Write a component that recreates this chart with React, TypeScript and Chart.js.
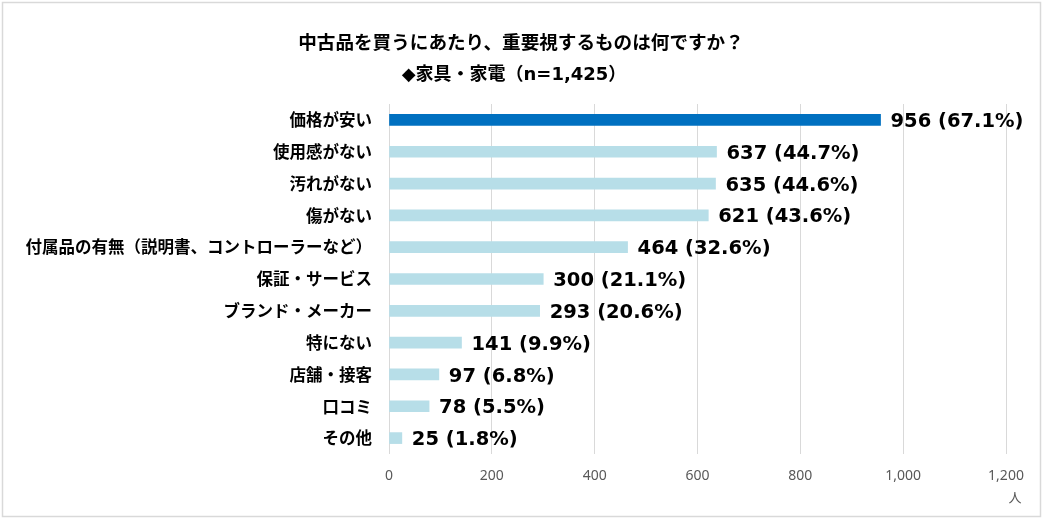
import React, { useEffect, useRef } from "react";
import { Chart, registerables } from "chart.js";

Chart.register(...registerables);

const categories = [
  "価格が安い",
  "使用感がない",
  "汚れがない",
  "傷がない",
  "付属品の有無（説明書、コントローラーなど）",
  "保証・サービス",
  "ブランド・メーカー",
  "特にない",
  "店舗・接客",
  "口コミ",
  "その他",
];
const counts = [956, 637, 635, 621, 464, 300, 293, 141, 97, 78, 25];
const percents = ["67.1", "44.7", "44.6", "43.6", "32.6", "21.1", "20.6", "9.9", "6.8", "5.5", "1.8"];
const xTickValues = [0, 200, 400, 600, 800, 1000, 1200];
const titleText = "中古品を買うにあたり、重要視するものは何ですか？";
const subtitleText = "◆家具・家電（n=1,425）";
const unitText = "人";

const highlightColor = "#0070C0";
const baseColor = "#B7DEE8";

export default function App() {
  const ref = useRef<HTMLCanvasElement | null>(null);

  useEffect(() => {
    if (!ref.current) return;
    const decor = {
      id: "decor",
      beforeDraw(chart: any) {
        const ctx = chart.ctx;
        ctx.save();
        ctx.fillStyle = "#ffffff";
        ctx.fillRect(0, 0, chart.width, chart.height);
        ctx.strokeStyle = "#d9d9d9";
        ctx.lineWidth = 1.5;
        ctx.strokeRect(2.5, 2.5, 1038, 514);
        ctx.restore();
      },
      afterDraw(chart: any) {
        const ctx = chart.ctx;
        const xs = chart.scales.x;
        const ys = chart.scales.y;
        ctx.save();
        ctx.fillStyle = "#000000";
        ctx.textAlign = "center";
        ctx.textBaseline = "middle";
        ctx.font = "bold 18.6px 'Noto Sans CJK JP'";
        ctx.fillText(titleText, 521, 42);
        ctx.font = "bold 18px 'DejaVu Sans', 'Noto Sans CJK JP'";
        ctx.fillText(subtitleText, 514, 75);

        ctx.textAlign = "left";
        ctx.font = "bold 19.5px 'DejaVu Sans', 'Noto Sans CJK JP'";
        counts.forEach((v, i) => {
          const x = xs.getPixelForValue(v) + 10;
          const y = ys.getPixelForValue(i) + 2;
          ctx.fillText(`${v} (${percents[i]}%)`, x, y);
        });

        ctx.fillStyle = "#595959";
        ctx.textAlign = "center";
        ctx.font = "13px 'Noto Sans CJK JP'";
        ctx.fillText(unitText, xs.right + 9, 497);
        ctx.restore();
      },
    };

    const chart = new Chart(ref.current, {
      type: "bar",
      data: {
        labels: categories,
        datasets: [
          {
            data: counts,
            backgroundColor: counts.map((_, i) => (i === 0 ? highlightColor : baseColor)),
            barThickness: 11,
          },
        ],
      },
      options: {
        indexAxis: "y",
        responsive: false,
        animation: false,
        devicePixelRatio: 1,
        layout: { padding: { top: 104, right: 40, left: 0, bottom: 0 } },
        plugins: {
          legend: { display: false },
          tooltip: { enabled: false },
          title: { display: false },
        },
        scales: {
          x: {
            min: 0,
            max: 1200,
            afterBuildTicks(scale: any) {
              scale.ticks = xTickValues.map((v) => ({ value: v }));
            },
            afterFit(scale: any) {
              scale.height = 68;
            },
            grid: { color: "#d9d9d9", lineWidth: 1, drawTicks: false },
            border: { display: false },
            ticks: {
              padding: 14,
              color: "#595959",
              font: { family: "'Noto Sans'", size: 14 },
              callback: (v: any) => Number(v).toLocaleString("en-US"),
            },
          },
          y: {
            afterFit(scale: any) {
              scale.width = 389;
            },
            grid: { display: false, drawTicks: false },
            border: { display: false },
            ticks: {
              padding: 17,
              color: "#000000",
              font: { family: "'Noto Sans CJK JP'", size: 16.5, weight: "bold" },
            },
          },
        },
      },
      plugins: [decor],
    });
    return () => chart.destroy();
  }, []);

  return (
    <div style={{ position: "absolute", left: 0, top: 0, width: 1046, height: 522 }}>
      <canvas ref={ref} width={1046} height={522} style={{ width: 1046, height: 522, display: "block" }} />
    </div>
  );
}
